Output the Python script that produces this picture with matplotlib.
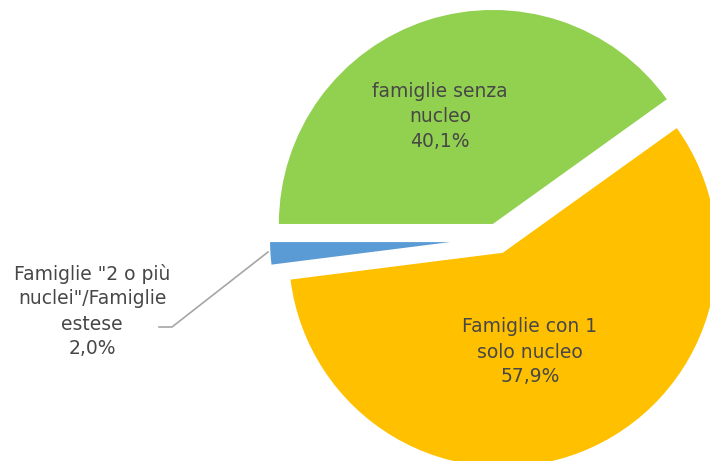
import numpy as np
import matplotlib.pyplot as plt

# Distribuzione delle famiglie per tipologia
etichette = ['Famiglie "2 o più\nnuclei"/Famiglie\nestese', 'Famiglie con 1\nsolo nucleo', 'famiglie senza\nnucleo']
valori = [2.0, 57.9, 40.1]
colori = ['#5B9BD5', '#FFC000', '#92D050']
esplosione = [49, 10.5, 20]   # in pixel (unità dati)

fig = plt.figure(figsize=(7.10, 4.61), dpi=100)
ax = fig.add_axes([0, 0, 1, 1])

R = 214
centro = (499, 218)
wedges, _ = ax.pie(valori, colors=colori, explode=esplosione, startangle=180,
                   counterclock=True, radius=R, center=centro,
                   wedgeprops=dict(linewidth=0))
# la fetta piccola è disegnata più corta e un po' più in alto nell'originale
wedges[0].set_radius(180)
cx, cy = wedges[0].center
wedges[0].set_center((cx, cy + 4))

ax.set_xlim(0, 710)
ax.set_ylim(0, 461)
ax.set_aspect('equal')
ax.axis('off')

col_testo = '#474747'
fs = 13.5

def pct(v):
    return f"{v:.1f}%".replace('.', ',')

# etichette interne
ax.text(440, 461 - 116, etichette[2] + '\n' + pct(valori[2]), ha='center', va='center',
        fontsize=fs, color=col_testo, linespacing=1.4)
ax.text(530, 461 - 352, etichette[1] + '\n' + pct(valori[1]), ha='center', va='center',
        fontsize=fs, color=col_testo, linespacing=1.4)
# etichetta esterna con linea guida
ax.text(92, 461 - 311, etichette[0] + '\n' + pct(valori[0]), ha='center', va='center',
        fontsize=fs, color=col_testo, linespacing=1.4)
ax.plot([159, 172, 268], [461 - 327, 461 - 327, 461 - 252], color='#a6a6a6', lw=1.2)

fig.savefig('out.png', dpi=100)
